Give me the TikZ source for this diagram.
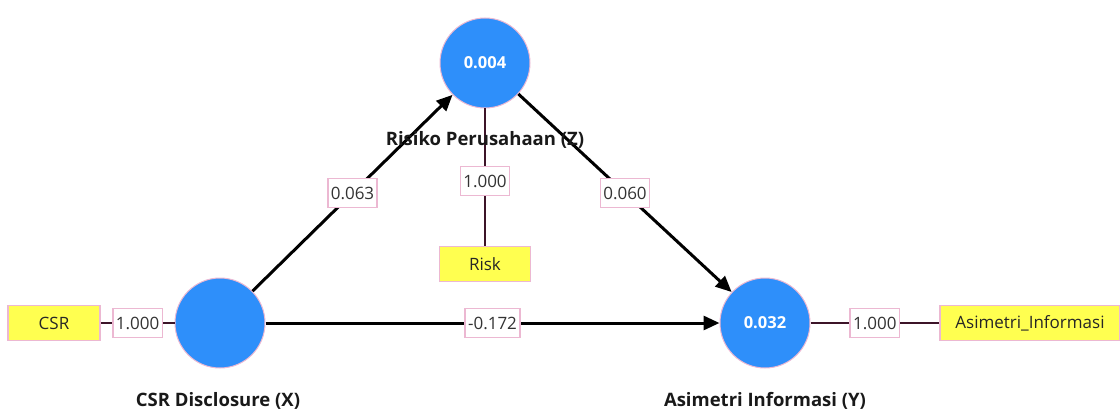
\documentclass[tikz,border=0pt]{standalone}
\usepackage{fontspec}
\setmainfont{Open Sans}
\usetikzlibrary{arrows.meta}
\definecolor{lvblue}{RGB}{46,143,250}
\definecolor{indyellow}{RGB}{255,255,80}
\definecolor{pinkb}{RGB}{236,184,210}
\definecolor{linkc}{RGB}{60,20,40}
\tikzset{
  latent/.style={circle, fill=lvblue, draw=pinkb, line width=1pt, minimum size=90pt, inner sep=0pt,
     text=white, font=\fontsize{16.5}{19}\selectfont\bfseries},
  indicator/.style={rectangle, fill=indyellow, draw=pinkb, line width=1.5pt, minimum height=35pt, inner sep=2pt,
     font=\fontsize{17}{20}\selectfont, text=black!85},
  coef/.style={rectangle, fill=white, draw=pinkb, line width=1.5pt, inner sep=3pt, minimum height=29pt,
     font=\fontsize{17}{20}\selectfont, text=black!80},
  lvname/.style={font=\fontsize{18.5}{22}\selectfont\bfseries, text=black!90},
  path/.style={draw=black, line width=3pt, -{Triangle[length=16pt,width=14pt]}},
  outer/.style={draw=linkc, line width=2.2pt},
}
\begin{document}
\begin{tikzpicture}[x=1pt,y=-1pt]
\useasboundingbox (0,0) rectangle (1120,412);
% latent variables
\node[latent] (X) at (220,323) {};
\node[latent] (Z) at (485,63) {0.004};
\node[latent] (Y) at (765,323) {0.032};
% indicators
\node[indicator, minimum width=92pt] (csr) at (54,323) {CSR};
\node[indicator, minimum width=91pt] (risk) at (485,264) {Risk};
\node[indicator, minimum width=180pt] (ai) at (1030,323) {Asimetri\_Informasi};
% outer model links
\draw[outer] (csr) -- node[coef] (l1) {1.000} (X);
\draw[outer] (Z) -- node[coef, pos=0.53] (l2) {1.000} (risk);
\draw[outer] (Y) -- node[coef] (l3) {1.000} (ai);
% structural paths
\draw[path] (X) -- node[coef, pos=0.5] (p1) {0.063} (Z);
\draw[path] (Z) -- node[coef, pos=0.5] (p2) {0.060} (Y);
\draw[path] (X) -- node[coef, pos=0.5] (p3) {-0.172} (Y);
% names
\node[lvname] (nX) at (218,401) {CSR Disclosure (X)};
\node[lvname] (nZ) at (485,140) {Risiko Perusahaan (Z)};
\node[lvname] (nY) at (765,401) {Asimetri Informasi (Y)};
\end{tikzpicture}
\end{document}
